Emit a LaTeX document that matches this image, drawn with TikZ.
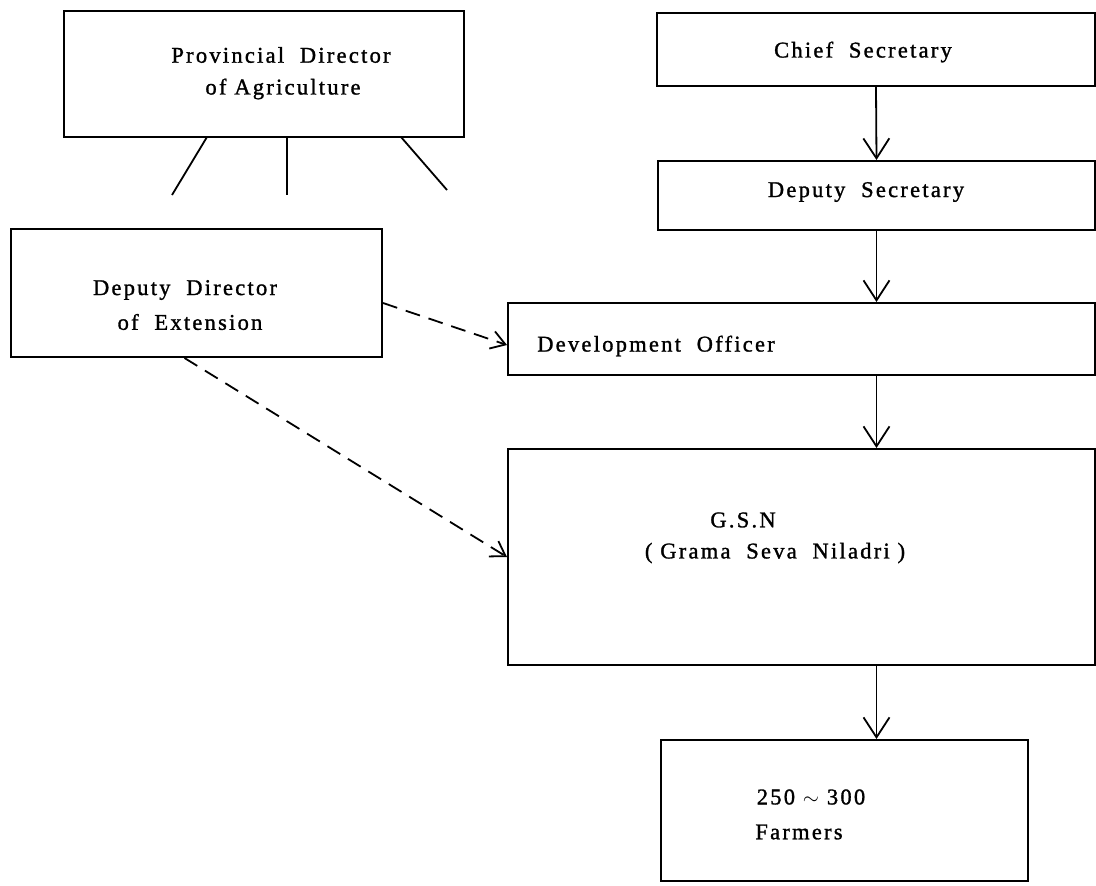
\documentclass[tikz,border=0pt]{standalone}
\usepackage{fontspec}
\setmainfont{Liberation Serif}[LetterSpace=10,FakeBold=1.3]
\usetikzlibrary{arrows.meta}
\begin{document}
\begin{tikzpicture}[x=1pt,y=-1pt,
  box/.style={draw,line width=2pt,inner sep=0pt,anchor=north west},
  lbl/.style={font=\fontsize{22.5}{26}\selectfont,inner sep=0pt},
  solidarrow/.style={line width=1.8pt,-{Straight Barb[length=20pt,width=26pt,line width=1.8pt]}},
  dasharrow/.style={line width=1.8pt,dash pattern=on 15pt off 9pt,-{Straight Barb[length=14pt,width=18pt,line width=1.8pt]}},
  spoke/.style={line width=1.8pt}]
\useasboundingbox[fill=white] (0,0) rectangle (1096,886);
% boxes
\node[box,minimum width=400pt,minimum height=126pt] (prov) at (63,10) {};
\node[box,minimum width=438pt,minimum height=73pt] (chief) at (656,12) {};
\node[box,minimum width=437pt,minimum height=69pt] (depsec) at (657,160) {};
\node[box,minimum width=371pt,minimum height=128pt] (dde) at (10,228) {};
\node[box,minimum width=587pt,minimum height=72pt] (dev) at (507,302) {};
\node[box,minimum width=587pt,minimum height=216pt] (gsn) at (507,448) {};
\node[box,minimum width=367pt,minimum height=141pt] (farm) at (660,739) {};
% labels
\node[lbl] (provA) at (281,55) {Provincial\ \ Director};
\node[lbl] (provB) at (283,89) {of Agriculture};
\node[lbl] (chiefT) at (863,52) {Chief\ \ Secretary};
\node[lbl] (depsecT) at (866,192) {Deputy\ \ Secretary};
\node[lbl] (ddeA) at (185,290) {Deputy\ \ Director};
\node[lbl] (ddeB) at (190,322) {of\ \ Extension};
\node[lbl] (devT) at (656,346) {Development\ \ Officer};
\node[lbl] (gsnA) at (743,520) {G.S.N};
\node[lbl] (gsnB) at (775,553) {(\ Grama\ \ Seva\ \ Niladri\ )};
\node[lbl] (farmA) at (811,797) {250 $\sim$ 300};
\node[lbl] (farmB) at (799,832) {Farmers};
% spokes under provincial director
\coordinate (t1) at (207,137); \coordinate (s1) at (172,195);
\coordinate (t2) at (287,137); \coordinate (s2) at (287,195);
\coordinate (t3) at (401,137); \coordinate (s3) at (447,190);
\draw[spoke] (t1) -- (s1);
\draw[spoke] (t2) -- (s2);
\draw[spoke] (t3) -- (s3);
% solid arrows
\draw[solidarrow] (chief.south) -- (depsec.north);
\draw[solidarrow] (depsec.south) -- (dev.north -| depsec.south);
\draw[solidarrow] (dev.south -| depsec.south) -- (gsn.north -| depsec.south);
\draw[solidarrow] (gsn.south -| depsec.south) -- (farm.north -| depsec.south);
% dashed arrows
\draw[dasharrow] ([yshift=-10pt]dde.east) -- ([yshift=-6pt]dev.west);
\draw[dasharrow] ([xshift=-12pt]dde.south) -- (gsn.west);
\end{tikzpicture}
\end{document}
